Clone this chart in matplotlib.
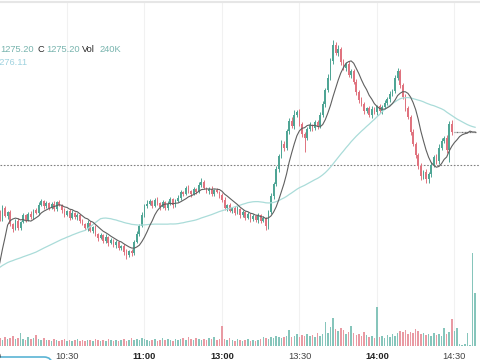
import pandas as pd
import matplotlib.pyplot as plt
from matplotlib.lines import Line2D
from matplotlib.patches import FancyBboxPatch
from matplotlib.transforms import IdentityTransform, blended_transform_factory

plt.rcParams['font.family'] = ['Liberation Sans', 'DejaVu Sans']

# closes before the visible window (only used to warm up the moving averages)
pre_close = [1262.5, 1261.8, 1262.4, 1261.9, 1262.6, 1262.0, 1262.3, 1261.7, 1262.2, 1262.5,
             1261.9, 1262.4, 1262.0, 1262.3, 1261.8, 1262.1, 1262.6, 1261.9, 1262.2, 1261.9,
             1257.8, 1256.9, 1256.2, 1255.8, 1256.3, 1256.0, 1262.0, 1264.0, 1265.5, 1266.1]

# 1-minute closes, 10:03 .. 14:38
closes = [1267.3, 1266.5, 1267.6, 1266.8, 1267.2, 1266.0, 1265.5, 1266.3, 1265.6, 1266.2,
          1266.9, 1266.4, 1267.0, 1266.7, 1267.4, 1267.1, 1267.9, 1268.3, 1267.8, 1268.1,
          1267.6, 1268.0, 1267.5, 1268.2, 1267.9, 1267.4, 1266.9, 1267.3, 1266.6, 1267.1,
          1266.7, 1266.9, 1266.3, 1266.0, 1265.6, 1266.1, 1265.3, 1265.7, 1265.0, 1264.6,
          1264.9, 1264.3, 1264.7, 1264.1, 1264.4, 1263.9, 1264.2, 1263.6, 1263.8, 1263.2,
          1262.9, 1263.3, 1263.1, 1264.2, 1265.0, 1265.8, 1266.9, 1267.8, 1268.0, 1268.3,
          1267.8, 1268.4, 1268.1, 1267.7, 1268.2, 1267.6, 1268.0, 1268.5, 1267.9, 1268.3,
          1268.6, 1269.2, 1269.0, 1269.6, 1269.3, 1269.0, 1269.5, 1269.2, 1269.9, 1270.2,
          1269.6, 1269.3, 1269.5, 1269.0, 1269.4, 1269.2, 1268.9, 1268.4, 1267.6, 1267.9,
          1267.3, 1267.6, 1267.1, 1267.5, 1266.9, 1267.2, 1266.6, 1267.0, 1266.5, 1266.8,
          1266.4, 1266.9, 1266.3, 1266.6, 1265.8, 1267.2, 1268.8, 1270.0, 1271.5, 1272.8,
          1274.0, 1273.6, 1275.3, 1276.3, 1275.8, 1276.9, 1277.2, 1276.0, 1275.0, 1274.6,
          1275.5, 1275.9, 1275.6, 1276.2, 1275.8, 1276.9, 1278.0, 1279.4, 1280.6, 1282.3,
          1283.9, 1283.1, 1283.5, 1282.2, 1281.6, 1282.0, 1280.9, 1281.3, 1280.2, 1279.2,
          1278.4, 1278.0, 1277.3, 1277.6, 1276.9, 1277.5, 1277.2, 1277.8, 1277.3, 1277.7,
          1278.1, 1278.5, 1279.0, 1279.3, 1280.6, 1281.3, 1279.9, 1278.7, 1277.6, 1276.7,
          1275.2, 1274.0, 1272.9, 1271.8, 1270.8, 1271.2, 1270.5, 1271.0, 1271.9, 1272.7,
          1272.3, 1273.6, 1274.3, 1274.6, 1273.4, 1276.0, 1275.2, 1275.2, 1275.2, 1275.2,
          1275.2, 1275.2, 1275.2, 1275.2, 1275.2, 1275.2]

# wick lengths in tenths above / below the body
wick_up = [2, 1, 3, 2, 1, 2, 1, 2, 3, 1, 2, 1, 2, 3, 1, 2, 3, 2, 1, 2,
           1, 2, 3, 1, 2, 1, 2, 1, 2, 3, 1, 2, 1, 2, 1, 3, 2, 1, 2, 1,
           2, 1, 3, 1, 2, 1, 2, 1, 1, 2, 3, 1, 2, 2, 3, 2, 3, 2, 4, 2,
           1, 2, 3, 1, 2, 1, 3, 2, 1, 2, 3, 2, 1, 2, 3, 1, 2, 1, 3, 4,
           2, 1, 2, 3, 1, 2, 1, 2, 3, 1, 2, 1, 2, 3, 1, 2, 1, 2, 1, 2,
           1, 2, 1, 2, 1, 2, 3, 2, 3, 2, 4, 3, 2, 3, 4, 5, 2, 3, 2, 2,
           2, 3, 1, 2, 2, 3, 3, 2, 4, 3, 5, 3, 4, 2, 3, 2, 3, 2, 2, 3,
           2, 3, 2, 1, 2, 3, 2, 1, 2, 2, 3, 2, 3, 2, 3, 3, 2, 2, 3, 2,
           2, 3, 2, 2, 3, 2, 3, 2, 3, 2, 3, 4, 3, 2, 3, 3, 4, 0, 0, 0,
           0, 0, 0, 0, 0, 0]
wick_dn = [1, 2, 2, 1, 3, 2, 3, 1, 2, 2, 1, 2, 1, 2, 2, 1, 2, 1, 3, 2,
           2, 1, 2, 2, 1, 3, 2, 1, 2, 1, 2, 3, 2, 1, 2, 3, 1, 2, 2, 3,
           1, 2, 2, 3, 1, 2, 3, 2, 2, 3, 4, 2, 3, 2, 1, 2, 1, 2, 2, 1,
           2, 1, 2, 3, 1, 2, 2, 1, 3, 2, 1, 2, 2, 1, 2, 3, 1, 2, 1, 2,
           1, 2, 3, 2, 2, 1, 3, 2, 2, 3, 1, 2, 2, 1, 3, 2, 2, 1, 3, 2,
           2, 3, 2, 1, 4, 3, 2, 3, 2, 3, 2, 3, 2, 3, 2, 3, 2, 2, 3, 14,
           2, 2, 3, 2, 3, 2, 2, 3, 2, 2, 3, 2, 3, 3, 2, 3, 2, 3, 2, 3,
           3, 2, 3, 2, 2, 3, 2, 3, 2, 3, 2, 2, 3, 2, 2, 2, 3, 2, 3, 2,
           3, 2, 3, 3, 4, 3, 4, 4, 3, 2, 3, 3, 2, 2, 3, 12, 3, 0, 0, 0,
           0, 0, 0, 0, 0, 0]

# volume in thousands
volumes = [32, 36, 27, 41, 32, 36, 45, 32, 36, 58, 32, 27, 41, 32, 36, 50, 32, 27, 36, 27,
           27, 23, 32, 27, 23, 27, 32, 23, 27, 23, 27, 32, 23, 27, 23, 27, 27, 23, 32, 27,
           23, 27, 23, 32, 27, 23, 27, 23, 27, 32, 23, 27, 36, 27, 32, 27, 36, 32, 27, 23,
           27, 32, 23, 27, 36, 27, 32, 27, 23, 32, 27, 32, 36, 27, 41, 32, 27, 36, 32, 27,
           32, 27, 36, 32, 41, 27, 32, 90, 32, 27, 36, 27, 23, 32, 27, 23, 27, 32, 23, 27,
           23, 27, 32, 41, 36, 32, 41, 36, 45, 41, 36, 41, 45, 72, 41, 45, 54, 41, 50, 45,
           54, 45, 50, 41, 58, 45, 54, 108, 58, 86, 126, 77, 68, 81, 72, 54, 63, 90, 58, 50,
           54, 45, 63, 50, 41, 45, 36, 176, 41, 45, 36, 50, 41, 54, 45, 58, 68, 63, 72, 54,
           63, 58, 77, 68, 54, 58, 50, 54, 45, 58, 50, 54, 45, 81, 54, 63, 122, 68, 81, 9,
           5, 9, 58, 5, 419, 240]

tick_pos = [-3, 27, 57, 87, 117, 147, 177]
tick_labels = ['10:00', '10:30', '11:00', '13:00', '13:30', '14:00', '14:30']
tick_bold = [True, False, True, True, False, True, False]
prev_close = 1271.9

up_col, dn_col = '#4fa595', '#e0737f'
vup_col, vdn_col = '#86c5bb', '#e99aa3'

n = len(closes)
idx = list(range(n))
opens = [pre_close[-1]] + closes[:-1]
highs = [max(o, c) + w / 10 for o, c, w in zip(opens, closes, wick_up)]
lows = [min(o, c) - w / 10 for o, c, w in zip(opens, closes, wick_dn)]

allc = pd.Series(pre_close + closes)
ma_fast = allc.rolling(9, min_periods=1).mean().iloc[len(pre_close):].to_numpy()
ma_slow = allc.rolling(45, min_periods=1).mean().iloc[len(pre_close):].to_numpy()

fig = plt.figure(figsize=(4.8, 3.6), dpi=100)
ax = fig.add_axes([0, 14 / 360, 1, 344 / 360])
axv = ax.twinx()
ax.set_zorder(axv.get_zorder() + 1)
ax.patch.set_visible(False)

for p in tick_pos:
    axv.axvline(p, color='#f1f1f1', lw=0.8, zorder=0)

vcol = [vup_col if c >= o else vdn_col for o, c in zip(opens, closes)]
axv.bar(idx, volumes, width=0.6, color=vcol, zorder=1)
axv.set_ylim(0, 1548)

ax.axhline(prev_close, color='#808080', lw=0.8, ls=(0, (1.5, 1.5)), zorder=1)

moving = [i for i in idx if closes[i] != opens[i]]
flat = [i for i in idx if closes[i] == opens[i]]
ccol = [up_col if closes[i] > opens[i] else dn_col for i in moving]
ax.vlines(moving, [lows[i] for i in moving], [highs[i] for i in moving],
          colors=ccol, lw=0.7, zorder=2)
ax.bar(moving, [abs(closes[i] - opens[i]) for i in moving],
       bottom=[min(opens[i], closes[i]) for i in moving],
       width=0.65, color=ccol, zorder=3)
ax.hlines([closes[i] for i in flat], [i - 0.35 for i in flat], [i + 0.35 for i in flat],
          colors='#777777', lw=0.9, zorder=3)

ax.plot(idx, ma_slow, color='#aadcd9', lw=0.9, zorder=4)
ax.plot(idx, ma_fast, color='#606060', lw=0.8, zorder=5)

ax.set_xlim(1.06, 186.9)
ax.set_ylim(1253.8, 1288.2)
for a in (ax, axv):
    a.set_xticks([])
    a.set_yticks([])
    for s in a.spines.values():
        s.set_visible(False)

tr = blended_transform_factory(ax.transData, ax.transAxes)
for p, lbl, b in zip(tick_pos, tick_labels, tick_bold):
    ax.text(p, -0.039, lbl, transform=tr, ha='center', va='baseline', fontsize=6.7,
            color='#222222' if b else '#444444', fontweight='bold' if b else 'normal',
            clip_on=False)

# legend line at top-left
val_col, key_col = '#78b4ae', '#2a2a2a'
for x, y, s, c in [(0, 51.7, '1275.20', val_col), (37, 51.7, 'C', key_col),
                   (46, 51.7, '1275.20', val_col), (82, 51.7, 'Vol', key_col),
                   (100, 51.7, '240K', val_col), (-5.5, 65, '1276.11', '#9fd2df')]:
    fig.text(x / 480, 1 - y / 360, s, color=c, fontsize=6.7, va='baseline', ha='left')

fig.add_artist(Line2D([0, 1], [1 - 2 / 360] * 2, transform=fig.transFigure,
                      color='#e6e6e6', lw=1.5))
fig.add_artist(FancyBboxPatch((-20, -15), 72, 18, boxstyle='round,pad=0,rounding_size=8',
                              transform=IdentityTransform(), ec='#5ab4d4', fc='white', lw=1.2))

fig.savefig('out.png', dpi=100)
